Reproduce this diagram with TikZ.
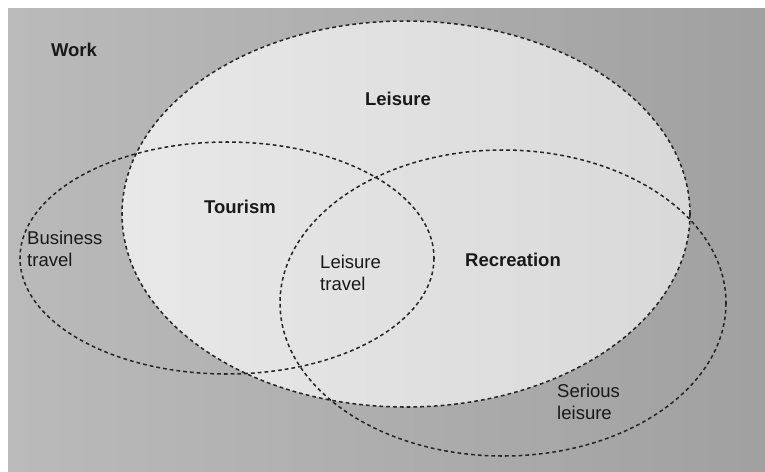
\documentclass[tikz,border=0pt]{standalone}
\usepackage{fontspec}
\setmainfont{Liberation Sans}
\usetikzlibrary{positioning}
\tikzset{
	venn/.style={draw=black!85, line width=1.3pt, dash pattern=on 3.2pt off 2.6pt},
	lbl/.style={inner sep=0pt, font=\fontsize{15.8}{18.7}\selectfont, text=black!90},
	blbl/.style={lbl, font=\fontsize{15.8}{18.7}\selectfont\bfseries}
}
\begin{document}
\begin{tikzpicture}[x=0.03cm, y=-0.03cm]
			\useasboundingbox (0,0) rectangle (765,471);
			\fill[white] (0,0) rectangle (765,471);
			\shade[left color=black!27, right color=black!37] (8,8) rectangle (765,471);
			% leisure is the light region
			\shade[left color=black!9, right color=black!15] (406,214) ellipse [x radius=284, y radius=193];
			\draw[venn] (406,214) ellipse [x radius=284, y radius=193];
			\draw[venn] (227,258) ellipse [x radius=207, y radius=116];
			\draw[venn] (503,303) ellipse [x radius=223, y radius=153];
			\node[blbl] (work) at (74,50) {Work};
			\node[blbl] (leisure) at (398,99) {Leisure};
			\node[blbl] (tourism) at (240,207) {Tourism};
			\node[blbl] (recreation) at (513,260) {Recreation};
			\node[lbl, align=left, anchor=west] (business) at (27,249) {Business\\travel};
			\node[lbl, align=left, anchor=west] (leisuretravel) at (320,272.5) {Leisure\\travel};
			\node[lbl, align=left, anchor=west] (serious) at (557,401.5) {Serious\\leisure};
		\end{tikzpicture}
\end{document}
